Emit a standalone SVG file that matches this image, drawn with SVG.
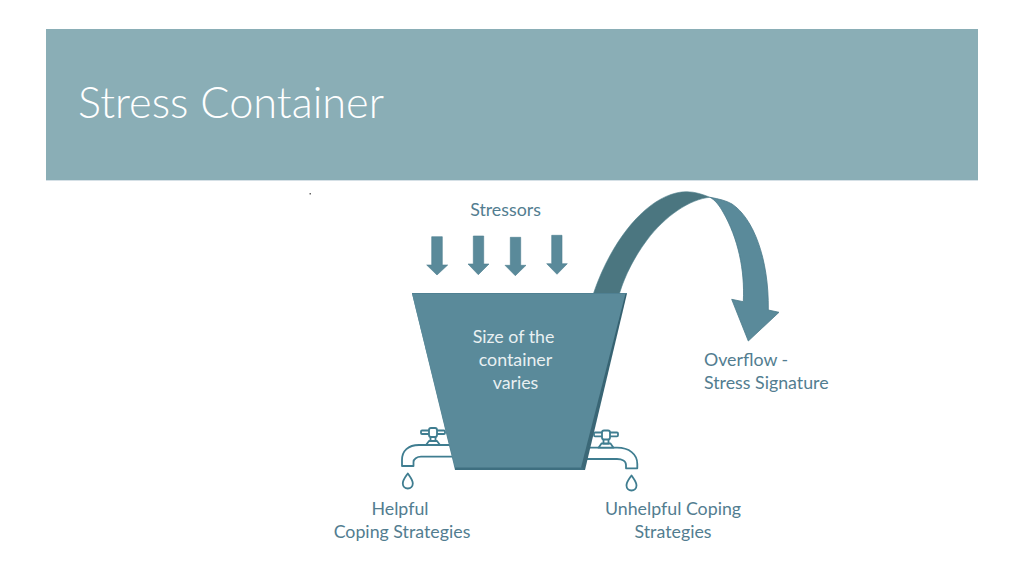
<svg xmlns="http://www.w3.org/2000/svg" width="1024" height="576" viewBox="0 0 1024 576">
<style>
.t{font-family:"Lato","Open Sans","Liberation Sans",sans-serif;font-size:17.8px;fill:#527d90;text-anchor:middle}
.w{fill:#e9f0f2}
.a{fill:#5a8a9a;stroke:#4d7e8e;stroke-width:.6}
.f{fill:none;stroke:#3f7d90;stroke-width:1.8;stroke-linejoin:round}
.fw{fill:#fff;stroke:#3f7d90;stroke-width:1.8;stroke-linejoin:round}
</style>
<defs>
<linearGradient id="edge" x1="0" y1="0" x2="1" y2="0"><stop offset="0" stop-color="#5a8a9a"/><stop offset="1" stop-color="#34606f"/></linearGradient>
</defs>
<rect width="1024" height="576" fill="#fff"/>
<g id="header">
<rect x="46" y="29" width="932" height="151" fill="#8aaeb6"/>
<rect x="46" y="180" width="932" height="1" fill="#d5e0e6"/>
<text x="78" y="118" font-family="Lato,'Open Sans',sans-serif" font-weight="300" font-size="43" fill="#fff" textLength="306" lengthAdjust="spacingAndGlyphs">Stress Container</text>
</g>
<rect x="309.500" y="193" width="1.500" height="1.500" fill="#666"/>
<g id="tap-left">
<path class="fw" d="M452 445H419C408 445 402 451 402 460V466H413.500V462C413.500 459 417 456.700 421 456.700H454Z"/>
<path class="fw" d="M426 445L429 441H437L440 445Z"/>
<rect class="fw" x="430.500" y="436" width="5" height="5"/>
<rect class="fw" x="421" y="430.500" width="24" height="3.500" rx="1"/>
<rect class="fw" x="429" y="428" width="8" height="9" rx="2"/>
<path class="f" d="M407.800 473.500C405 477.500 402.800 480 402.800 483.500A5 5 0 0 0 412.800 483.500C412.800 480 410.500 477.500 407.800 473.500Z"/>
</g>
<g id="tap-right">
<path class="fw" d="M586 447.700H617C629 447.700 637.300 454 637.300 464V468.300H626V465C626 461 622 459 617 459H584Z"/>
<path class="fw" d="M598.500 447.700L601.500 443.500H610.500L613.500 447.700Z"/>
<rect class="fw" x="603.500" y="438" width="5" height="5.500"/>
<rect class="fw" x="594" y="432.500" width="24" height="3.800" rx="1"/>
<rect class="fw" x="602" y="430.500" width="8" height="9" rx="2"/>
<path class="f" d="M631.500 475.500C628.700 479.500 626.500 482 626.500 485.500A5 5 0 0 0 636.500 485.500C636.500 482 634.200 479.500 631.500 475.500Z"/>
</g>
<g id="overflow-arrow">
<path d="M593.300 294C612 238 650 192 686.700 191.700C695 191.700 703 194.500 710 197.300C690 199 665 216 647 240C635 256 625 275 619.300 294Z" fill="#4b7680" stroke="#4f7f8c" stroke-width=".6"/>
<path d="M710 197.300C719 199 726 200.500 732 204C753 218 769 258 768.300 310L779 312.300L748.300 341L731.700 299.300L743.300 301.700C745 270 738 238 723 212C719 205 715 200 710 197.300Z" fill="#5a8a9a" stroke="#4a7a8a" stroke-width=".8"/>
</g>
<g id="bucket">
<path d="M412 293.500H627L585 470H455Z" fill="url(#edge)"/>
<path d="M455 467H582L584 470H455Z" fill="#3e6f80"/>
<path d="M412 293.500H625.500L581 467.500H455Z" fill="#5a8a9a"/>
<path d="M412 293.500H627" stroke="#4f8092" stroke-width="1" fill="none"/>
<text class="t w" x="513.500" y="343">Size of the</text>
<text class="t w" x="515.500" y="366">container</text>
<text class="t w" x="515.500" y="389">varies</text>
</g>
<g id="stressors">
<path class="a" d="M431.700 236.700H442.300V265H447.700L437 275L426.700 265H431.700Z"/>
<path class="a" d="M473.300 236H483.700V264H489L478.300 274.700L468 264H473.300Z"/>
<path class="a" d="M510.300 237.300H520.700V265.300H526L515.300 275.700L505 265.300H510.300Z"/>
<path class="a" d="M551.700 235.300H562V263.700H567.300L557 274.300L546.700 263.700H551.700Z"/>
</g>
<g id="labels">
<text class="t" x="505.500" y="215.500">Stressors</text>
<text class="t" x="704" y="365.500" style="text-anchor:start">Overflow -</text>
<text class="t" x="704" y="388.500" style="text-anchor:start">Stress Signature</text>
<text class="t" x="400" y="514.500">Helpful</text>
<text class="t" x="402" y="537.500">Coping Strategies</text>
<text class="t" x="673" y="514.500">Unhelpful Coping</text>
<text class="t" x="673" y="537.500">Strategies</text>
</g>
</svg>
